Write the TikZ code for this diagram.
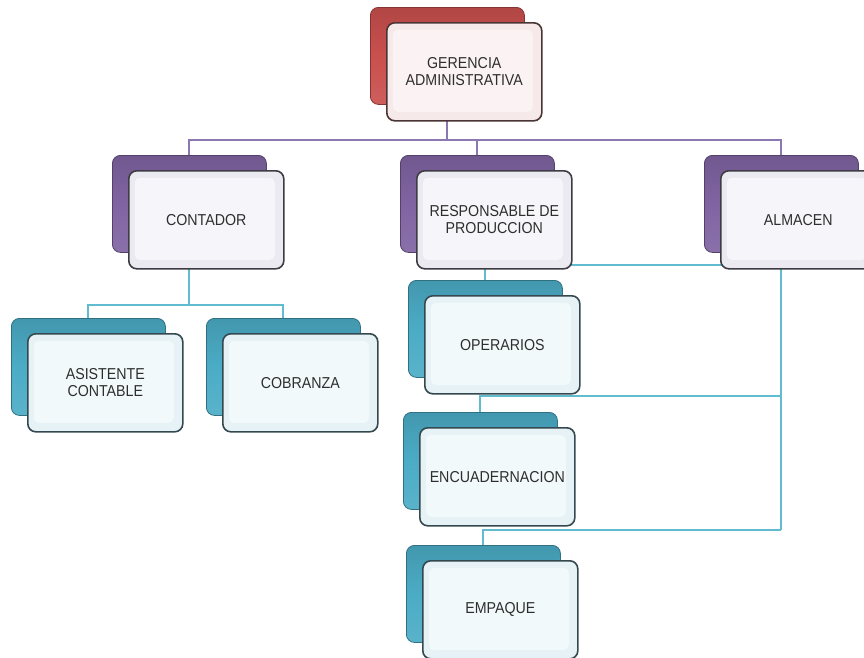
\documentclass[tikz,border=0pt]{standalone}
\usepackage{fontspec}
\setmainfont{Liberation Sans}[FakeStretch=0.9]
\usetikzlibrary{calc}

% colour groups: red (top), purple (second level), teal (lower levels)
\definecolor{redA}{HTML}{C9504E}
\definecolor{redEdge}{HTML}{4A3434}
\definecolor{redFace}{HTML}{F6E9E9}
\definecolor{redInner}{HTML}{FBF3F3}
\definecolor{purA}{HTML}{8064A2}
\definecolor{purEdge}{HTML}{3E3B44}
\definecolor{purFace}{HTML}{ECEAF1}
\definecolor{purInner}{HTML}{F6F5F9}
\definecolor{tealA}{HTML}{4BACC6}
\definecolor{tealEdge}{HTML}{34494F}
\definecolor{tealFace}{HTML}{E6F2F5}
\definecolor{tealInner}{HTML}{F2F9FB}
\definecolor{textgray}{HTML}{2E2E2E}
\definecolor{purLine}{HTML}{8C78B0}
\definecolor{tealLine}{HTML}{62BCCF}

\tikzset{
  backbox/.style={rectangle, rounded corners=8pt, inner sep=0pt,
    minimum width=154pt, minimum height=97pt,
    draw=#1A!65!black, line width=0.8pt,
    top color=#1A!88!black, bottom color=#1A!92!white, middle color=#1A},
  frontbox/.style={rectangle, rounded corners=8pt, inner sep=0pt,
    minimum width=155pt, minimum height=98pt,
    draw=#1Edge, line width=1.6pt, fill=#1Face,
    text=textgray, align=center, font=\fontsize{15.8}{17}\selectfont,
    path picture={\fill[#1Inner, rounded corners=5pt]
      ($(path picture bounding box.north west)+(6pt,-7pt)$) rectangle
      ($(path picture bounding box.south east)+(-9pt,9pt)$);}},
  purconn/.style={draw=purLine, line width=1.8pt},
  tealconn/.style={draw=tealLine, line width=1.8pt},
}

% one chart unit: coloured back plate (#1b) and labelled front card (#1)
\newcommand{\orgunit}[4]{%
  \node[backbox=#3, anchor=north west] (#1b) at #2 {};
  \node[frontbox=#3, anchor=north west] (#1) at ([shift={(16,15)}]#1b.north west) {#4};
}

\begin{document}
\begin{tikzpicture}[x=1pt, y=-1pt]
  \useasboundingbox (0,0) rectangle (864,657);
  \clip (0,0) rectangle (864,657);

  % horizontal bus levels
  \coordinate (busA) at (0,140);
  \coordinate (busB) at (0,305);
  \coordinate (busC) at (0,265);
  \coordinate (busD) at (0,396);
  \coordinate (busE) at (0,530);

  % plate corners (north west)
  \coordinate (pGer)  at (370,7);
  \coordinate (pCont) at (112,155);
  \coordinate (pResp) at (400,155);
  \coordinate (pAlm)  at (704,155);
  \coordinate (pAsis) at (11,318);
  \coordinate (pCobr) at (206,318);
  \coordinate (pOper) at (408,280);
  \coordinate (pEnc)  at (403,412);
  \coordinate (pEmp)  at (406,545);

  % top-centre points of the plates, where connectors attach
  \foreach \n in {Ger,Cont,Resp,Alm,Asis,Cobr,Oper,Enc,Emp}{
    \coordinate (c\n) at ([shift={(77,0)}]p\n);
  }

  % connectors (drawn beneath the cards)
  \path[purconn] (cGer |- 0,100) -- (cGer |- busA) -| (cCont);
  \path[purconn] (cGer |- busA) -| (cResp);
  \path[purconn] (cGer |- busA) -| (cAlm);

  \path[tealconn] (cCont |- 0,240) -- (cCont |- busB) -| (cAsis);
  \path[tealconn] (cCont |- busB) -| (cCobr);

  \path[tealconn] (cAlm |- 0,240) -- (cAlm |- busE);
  \path[tealconn] (cOper) |- (cAlm |- busC);
  \path[tealconn] (cEnc) |- (cAlm |- busD);
  \path[tealconn] (cEmp) |- (cAlm |- busE);

  % cards
  \orgunit{ger}{(pGer)}{red}{GERENCIA\\ADMINISTRATIVA}
  \orgunit{cont}{(pCont)}{pur}{CONTADOR}
  \orgunit{resp}{(pResp)}{pur}{RESPONSABLE DE\\PRODUCCION}
  \orgunit{alm}{(pAlm)}{pur}{ALMACEN}
  \orgunit{asis}{(pAsis)}{teal}{ASISTENTE\\CONTABLE}
  \orgunit{cobr}{(pCobr)}{teal}{COBRANZA}
  \orgunit{oper}{(pOper)}{teal}{OPERARIOS}
  \orgunit{enc}{(pEnc)}{teal}{ENCUADERNACION}
  \orgunit{emp}{(pEmp)}{teal}{EMPAQUE}
\end{tikzpicture}
\end{document}
